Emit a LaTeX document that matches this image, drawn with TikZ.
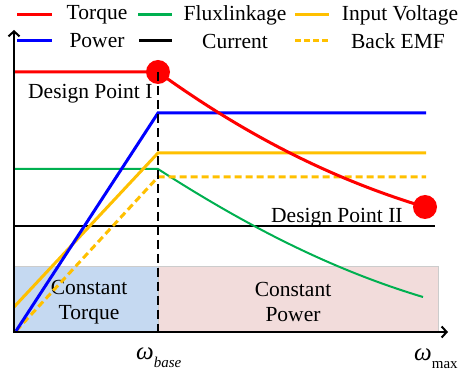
\documentclass[tikz,border=0pt]{standalone}
\usepackage{fontspec}
\setmainfont{Liberation Serif}
\usetikzlibrary{arrows.meta}
\definecolor{trqred}{RGB}{255, 0, 0}
\definecolor{pwrblue}{RGB}{0, 0, 255}
\definecolor{fluxgreen}{RGB}{0, 176, 80}
\definecolor{voltyellow}{RGB}{255, 192, 0}
\definecolor{ctblue}{RGB}{197, 217, 241}
\definecolor{cppink}{RGB}{242, 220, 219}
\newcommand{\omegasub}[1]{{\fontsize{25}{25}\selectfont\textit{ω}}\raisebox{-8pt}{\fontsize{15}{15}\selectfont #1}}

\begin{document}
\begin{tikzpicture}[x=1pt, y=-1pt,
    torque/.style={line width=3pt, draw=trqred},
    power/.style={line width=3pt, draw=pwrblue},
    flux/.style={line width=2pt, draw=fluxgreen},
    volt/.style={line width=3pt, draw=voltyellow},
    emf/.style={line width=3pt, draw=voltyellow, dash pattern=on 7pt off 4pt},
    current/.style={line width=1.5pt, draw=black},
    axis/.style={line width=2.5pt, -{Straight Barb[length=5pt, width=11pt, line width=2pt]}},
    txt/.style={font=\fontsize{21.5}{25}\selectfont, inner sep=0pt},
    dpoint/.style={circle, fill=trqred, minimum size=24pt, inner sep=0pt}
]
\useasboundingbox (0,0) rectangle (464,374);

% === Regiones de operacion ===
\fill[ctblue, draw=gray!40] (14,266) rectangle (158,332);
\fill[cppink, draw=gray!40] (158,266) rectangle (438,332);
\node[txt, align=center] (ctq) at (89,302) {Constant\\Torque};
\node[txt, align=center] (cpw) at (293,302) {Constant\\Power};

% === Curvas ===
\coordinate (O) at (16,331);
\draw[current] (14,226) -- (435,226);
\draw[flux] (14,169) -- (158,169) .. controls (248,227) and (333,270) .. (423,297);
\draw[emf] (O) -- (158,177) -- (426,177);
\draw[volt] (14,307) -- (158,153) -- (426,153);
\draw[power] (O) -- (158,113) -- (426,113);
\draw[torque] (14,72) -- (158,72) .. controls (248,137) and (335,180) .. (425,207);

\node[dpoint] (dp1) at (158,72) {};
\node[dpoint] (dp2) at (425,207) {};
\draw[line width=1.3pt, dash pattern=on 9pt off 5pt] (dp1.center) -- (158,332);

% === Ejes ===
\draw[axis] (14,333.2) -- (14,30);
\draw[axis] (12.8,332) -- (448,332);

\node[txt, anchor=base west] (lbl1) at (28,99) {Design Point I};
\node[txt, anchor=base west] (lbl2) at (271,223) {Design Point II};
\node[inner sep=0pt, anchor=base west] (wb) at (136,360) {\omegasub{\textit{base}}};
\node[inner sep=0pt, anchor=base west] (wm) at (414,361) {\omegasub{max}};

% === Leyenda ===
\draw[torque] (17,15) -- (52,15);
\node[txt] (lgT) at (97,15) {Torque};
\draw[flux, line width=3pt] (138,15) -- (172,15);
\node[txt] (lgF) at (235,15) {Fluxlinkage};
\draw[volt] (295,15) -- (329,15);
\node[txt] (lgV) at (400,15) {Input Voltage};
\draw[power] (17,41) -- (52,41);
\node[txt] (lgP) at (97,41) {Power};
\draw[current, line width=3pt] (139,41) -- (172,41);
\node[txt] (lgC) at (235,41) {Current};
\draw[emf, dash pattern=on 6pt off 3pt] (295,41) -- (329,41);
\node[txt] (lgE) at (398,41) {Back EMF};

\end{tikzpicture}
\end{document}
